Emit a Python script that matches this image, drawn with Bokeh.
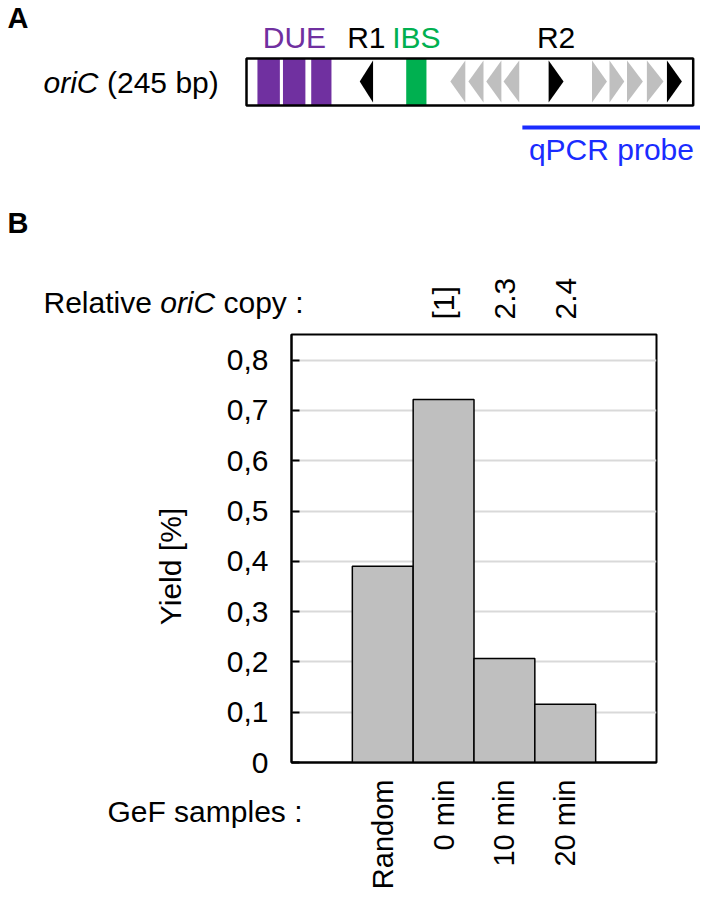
from math import pi
from bokeh.plotting import figure
from bokeh.models import Range1d, FixedTicker, LinearAxis, Label
from bokeh.embed import file_html
from bokeh.resources import INLINE

# ---------------- Panel A data (positions in bp along oriC) ----------------
oric_length = 245
due_start = [6, 20, 35.5]
due_end = [18.3, 32.3, 46.6]
ibs_start = [87.6]
ibs_end = [98.7]
r1_start = [62.1]          # black box, pointing left
r1_end = [69.4]
gray_left_start = [111.8, 121.7, 131.5, 141.0]
gray_left_end = [120.0, 130.0, 139.8, 149.6]
r2_start = [165.7]         # black box, pointing right
r2_end = [173.9]
gray_right_start = [189.5, 199.1, 208.7, 219.6]
gray_right_end = [197.7, 207.2, 217.4, 228.7]
last_right_start = [230.6]
last_right_end = [238.8]
probe_start = 151.3
probe_end = 249

# ---------------- Panel B data ----------------
categories = ["Random", "0 min", "10 min", "20 min"]
yield_percent = [0.39, 0.722, 0.207, 0.116]
relative_copy = ["", "[1]", "2.3", "2.4"]
y_ticks = [0, 0.1, 0.2, 0.3, 0.4, 0.5, 0.6, 0.7, 0.8]
y_tick_labels = ["0", "0,1", "0,2", "0,3", "0,4", "0,5", "0,6", "0,7", "0,8"]

FONT = "Liberation Sans"
PURPLE = "#7030a0"
GREEN = "#00b050"
BLUE = "#1a2cff"
GRAY = "#bfbfbf"

PAGE_W, PAGE_H = 700, 893

# ============ background figure: panel A and all free texts (page px) ============
BOX_L, BOX_R = 246, 692.7          # page px of the oriC box
scale = (BOX_R - BOX_L) / oric_length


def bp(px):
    return (px - BOX_L) / scale


pT = figure(width=PAGE_W, height=PAGE_H, x_range=Range1d(0, PAGE_W),
            y_range=Range1d(PAGE_H, 0), x_axis_type=None, y_axis_type=None,
            output_backend="svg", toolbar_location=None,
            min_border=0, min_border_left=0, min_border_right=0,
            min_border_top=0, min_border_bottom=0,
            styles={"position": "absolute", "left": "0px", "top": "0px"})
pT.extra_x_ranges = {"bp": Range1d(bp(0), bp(PAGE_W))}
pT.outline_line_color = None
pT.xgrid.visible = False
pT.ygrid.visible = False

box_top, box_bot = 58, 105
tri_top, tri_bot = 60, 102
tri_mid = (tri_top + tri_bot) / 2

pT.quad(left=due_start, right=due_end, top=box_top, bottom=box_bot,
        fill_color=PURPLE, line_color=None, x_range_name="bp")
pT.quad(left=ibs_start, right=ibs_end, top=box_top, bottom=box_bot,
        fill_color=GREEN, line_color=None, x_range_name="bp")


def left_tris(starts, ends):
    xs = [[e, e, s] for s, e in zip(starts, ends)]
    ys = [[tri_top, tri_bot, tri_mid] for _ in starts]
    return xs, ys


def right_tris(starts, ends):
    xs = [[s, s, e] for s, e in zip(starts, ends)]
    ys = [[tri_top, tri_bot, tri_mid] for _ in starts]
    return xs, ys


xs, ys = left_tris(gray_left_start, gray_left_end)
pT.patches(xs, ys, fill_color=GRAY, line_color=None, x_range_name="bp")
xs, ys = right_tris(gray_right_start, gray_right_end)
pT.patches(xs, ys, fill_color=GRAY, line_color=None, x_range_name="bp")
xs, ys = left_tris(r1_start, r1_end)
pT.patches(xs, ys, fill_color="black", line_color=None, x_range_name="bp")
xs, ys = right_tris(r2_start + last_right_start, r2_end + last_right_end)
pT.patches(xs, ys, fill_color="black", line_color=None, x_range_name="bp")

pT.quad(left=0, right=oric_length, top=box_top, bottom=box_bot,
        fill_color=None, line_color="black", line_width=2.5, x_range_name="bp")

pT.segment(x0=probe_start, x1=probe_end, y0=127, y1=127,
           line_color=BLUE, line_width=4, x_range_name="bp")


def lab(text, x, y, color="black", align="left", style="normal", size=30,
        angle=0, rng="default"):
    # y is the text baseline in page px (for horizontal text); anchor at cap middle
    y_mid = y - 0.36 * size if angle == 0 else y
    pT.add_layout(Label(x=x, y=y_mid, text=text, text_font=FONT, text_font_size=f"{size}px",
                        text_color=color, text_align=align, text_baseline="middle",
                        text_font_style=style, angle=angle, x_range_name=rng))


# panel A texts
lab("A", 7, 28, style="bold", size=29)
lab("oriC", 43, 93, style="italic")
lab("(245 bp)", 106.5, 93)
lab("DUE", (min(due_start) + max(due_end)) / 2, 48, color=PURPLE, align="center", rng="bp")
lab("R1", (r1_start[0] + r1_end[0]) / 2, 48, align="center", rng="bp")
lab("IBS", (ibs_start[0] + ibs_end[0]) / 2, 48, color=GREEN, align="center", rng="bp")
lab("R2", (r2_start[0] + r2_end[0]) / 2, 48, align="center", rng="bp")
lab("qPCR probe", (probe_start + probe_end) / 2, 160, color=BLUE, align="center", rng="bp")

# panel B free texts
lab("B", 7, 233, style="bold", size=29)
lab("Relative", 43, 313)
lab("oriC", 159.7, 313, style="italic")
lab("copy :", 223, 313)
lab("Yield [%]", 170, 566, align="center", angle=pi / 2)
lab("GeF samples :", 302, 822, align="right")

# ======================= Panel B chart ===========================
B_LEFT, B_TOP = 8, 190
B_W, B_H = 688, 702
FRAME_L, FRAME_R, FRAME_T, FRAME_B = 291, 656, 334, 765   # page px
X_LO, X_HI = -1.5, len(categories) + 0.5
Y_HI = 0.851

pB = figure(width=B_W, height=B_H, x_range=Range1d(X_LO, X_HI), y_range=Range1d(0, Y_HI),
            output_backend="svg", toolbar_location=None,
            min_border_left=FRAME_L - B_LEFT, min_border_right=B_LEFT + B_W - FRAME_R,
            min_border_top=FRAME_T - B_TOP, min_border_bottom=B_TOP + B_H - FRAME_B,
            styles={"position": "absolute", "left": f"{B_LEFT}px", "top": f"{B_TOP}px"})
pB.border_fill_color = None
pB.background_fill_color = "white"
pB.outline_line_color = "black"
pB.outline_line_width = 2
pB.outline_line_alpha = 1
pB.xgrid.grid_line_color = None
pB.ygrid.ticker = FixedTicker(ticks=y_ticks)
pB.ygrid.grid_line_color = "#d9d9d9"
pB.ygrid.grid_line_width = 2

idx = list(range(len(categories)))
pB.vbar(x=idx, top=yield_percent, bottom=0, width=1.0,
        fill_color=GRAY, line_color="black", line_width=1.5)

# left axis
yax = pB.yaxis[0]
yax.ticker = FixedTicker(ticks=y_ticks)
yax.major_label_overrides = {t: l for t, l in zip(y_ticks, y_tick_labels)}
yax.major_tick_in = 8
yax.major_tick_out = 0
yax.minor_tick_line_color = None
yax.major_tick_line_width = 2
yax.major_tick_line_color = "black"
yax.axis_line_color = "black"
yax.axis_line_width = 2
yax.major_label_standoff = 23
yax.major_label_text_font = FONT
yax.major_label_text_font_size = "30px"
yax.major_label_text_color = "black"

# bottom axis with category labels
xax = pB.xaxis[0]
xax.ticker = FixedTicker(ticks=idx)
xax.major_label_overrides = {i: c for i, c in zip(idx, categories)}
xax.major_label_orientation = pi / 2
xax.major_tick_line_color = None
xax.minor_tick_line_color = None
xax.major_tick_in = 0
xax.major_tick_out = 0
xax.axis_line_color = "black"
xax.axis_line_width = 2
xax.major_label_standoff = 17
xax.major_label_text_font = FONT
xax.major_label_text_font_size = "29px"
xax.major_label_text_color = "black"

# top axis with relative oriC copy numbers
copy_ticks = [i for i, c in zip(idx, relative_copy) if c]
top_ax = LinearAxis(ticker=FixedTicker(ticks=copy_ticks),
                    major_label_overrides={i: relative_copy[i] for i in copy_ticks},
                    major_label_orientation=pi / 2,
                    major_tick_line_color=None, minor_tick_line_color=None,
                    major_tick_in=0, major_tick_out=0, axis_line_color=None,
                    major_label_standoff=15, major_label_text_font=FONT,
                    major_label_text_font_size="30px", major_label_text_color="black")
pB.add_layout(top_ax, "above")

open("out.html", "w").write(file_html([pT, pB], INLINE))
